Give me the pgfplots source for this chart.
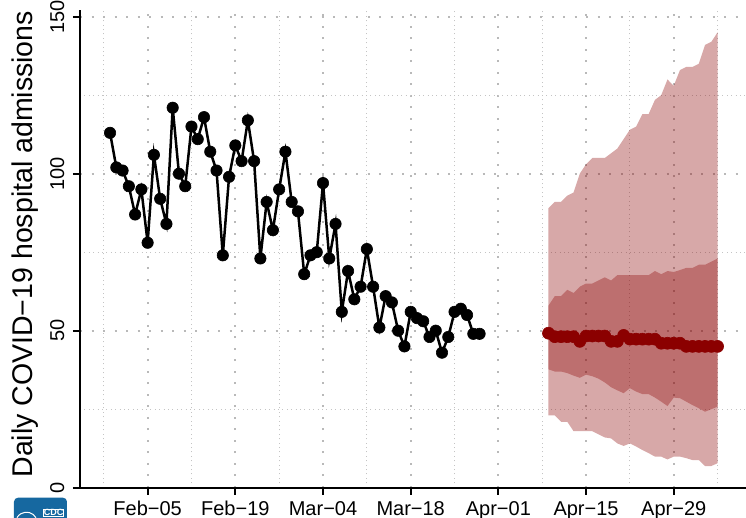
\documentclass[border=0pt]{standalone}
\usepackage{fontspec}
\setmainfont{Liberation Sans}
\usepackage{pgfplots}
\pgfplotsset{compat=1.18}
\usepackage{pgfplotstable}
\usepgfplotslibrary{fillbetween}
\definecolor{dred}{RGB}{139,0,0}
\definecolor{cdcblue}{RGB}{22,104,160}
\definecolor{gridc}{RGB}{185,185,185}

\pgfplotstableread{
d y
-6 113
-5 102
-4 101
-3 96
-2 87
-1 95
0 78
1 106
2 92
3 84
4 121
5 100
6 96
7 115
8 111
9 118
10 107
11 101
12 74
13 99
14 109
15 104
16 117
17 104
18 73
19 91
20 82
21 95
22 107
23 91
24 88
25 68
26 74
27 75
28 97
29 73
30 84
31 56
32 69
33 60
34 64
35 76
36 64
37 51
38 61
39 59
40 50
41 45
42 56
43 54
44 53
45 48
46 50
47 43
48 48
49 56
50 57
51 55
52 49
53 49
}\obs

\pgfplotstableread{
d med lo95 hi95 lo50 hi50
64 49.2 23 89 37.7 58
65 48.1 23 91 37 61
66 48.1 21 91 37 61
67 48.1 21 93 36.5 63
68 48.1 18 94 35.7 62
69 46.6 18 100 35 64
70 48.3 18 103 36 65
71 48.3 18 105 35.5 65
72 48.3 17 105 34.7 66
73 48.3 16 105 33.5 67
74 46.6 15.7 106.5 32 66
75 46.6 14.1 108 31 67.7
76 48.5 13.3 111 30.1 67.7
77 47.3 14.1 114 31.7 67.7
78 47.3 13.1 115 30.6 67.7
79 47.3 12 119 29.8 67.7
80 47.3 11 119 29.8 67.7
81 47.3 9.9 123.5 28.7 69
82 46 9.9 125 27.4 68
83 46 9 130 26 69
84 46 9.9 128 28.7 68.7
85 46 9.9 133 28.5 69.3
86 45 9.4 134 27.4 70
87 45 8.8 134 26.3 70
88 45 8.8 135 25.3 71
89 45 6.9 141 24.2 71
90 45 6.9 142 25 72
91 45 7.8 145 25.8 73
}\fc

\begin{document}
\begin{tikzpicture}
\begin{axis}[
  scale only axis, width=666pt, height=477.3pt,
  xmin=-10.8, xmax=95.54, ymin=0, ymax=152,
  axis x line=bottom, axis y line=left,
  axis line style={-, line width=2pt, black},
  xtick={0,14,28,42,56,70,84},
  xticklabels={Feb−05,Feb−19,Mar−04,Mar−18,Apr−01,Apr−15,Apr−29},
  ytick={0,50,100,150}, yticklabels={0,50,100,150},
  minor xtick={-7,7,21,35,49,63,77,91},
  minor ytick={25,75,125},
  grid=both,
  major grid style={gridc, line width=2pt, line cap=butt, dash pattern=on 2pt off 9.5pt},
  minor grid style={gridc!85, line width=0.9pt, line cap=butt, dash pattern=on 1pt off 3.4pt},
  tick align=outside,
  major tick length=7pt,
  minor tick length=0pt,
  tick style={line width=2pt, black},
  tick label style={font=\fontsize{20}{24}\selectfont},
  xticklabel style={anchor=base},
  xticklabel shift=20.5pt,
  yticklabel style={anchor=base, rotate=90},
  yticklabel shift=9pt,
  ylabel={Daily COVID−19 hospital admissions},
  ylabel style={font=\fontsize{28.5}{32}\selectfont, at={(axis description cs:-0.071,0.51)}, anchor=base, rotate=0},
]
\addplot[draw=none, name path=h95, forget plot] table[x=d,y=hi95]{\fc};
\addplot[draw=none, name path=l95, forget plot] table[x=d,y=lo95]{\fc};
\addplot[fill=dred, fill opacity=0.34, draw=none] fill between[of=h95 and l95];
\addplot[draw=none, name path=h50, forget plot] table[x=d,y=hi50]{\fc};
\addplot[draw=none, name path=l50, forget plot] table[x=d,y=lo50]{\fc};
\addplot[fill=dred, fill opacity=0.34, draw=none] fill between[of=h50 and l50];
\addplot[black, line width=2.5pt, mark=*, mark size=5.7pt, mark options={line width=0.6pt, fill=black}] table[x=d,y=y]{\obs};
\addplot[dred, line width=2.5pt, mark=*, mark size=6pt, mark options={line width=0.6pt, fill=dred}] table[x=d,y=med]{\fc};
\end{axis}
\fill[cdcblue, rounded corners=4pt] ([shift={(-66pt,-40pt)}]current axis.south west) rectangle ([shift={(-13pt,-10pt)}]current axis.south west);
\draw[white, line width=1pt] ([shift={(-44pt,-30pt)}]current axis.south west) arc[start angle=30, end angle=150, radius=11pt];
\node[white, font=\fontsize{9}{9}\selectfont\bfseries, inner sep=0.5pt, draw=white, line width=0.6pt, anchor=north west] at ([shift={(-37pt,-21pt)}]current axis.south west) {CDC};
\pgfresetboundingbox
\path ([shift={(-80pt,-30.3pt)}]current axis.south west) rectangle ([shift={(666pt,487.7pt)}]current axis.south west);
\end{tikzpicture}
\end{document}
